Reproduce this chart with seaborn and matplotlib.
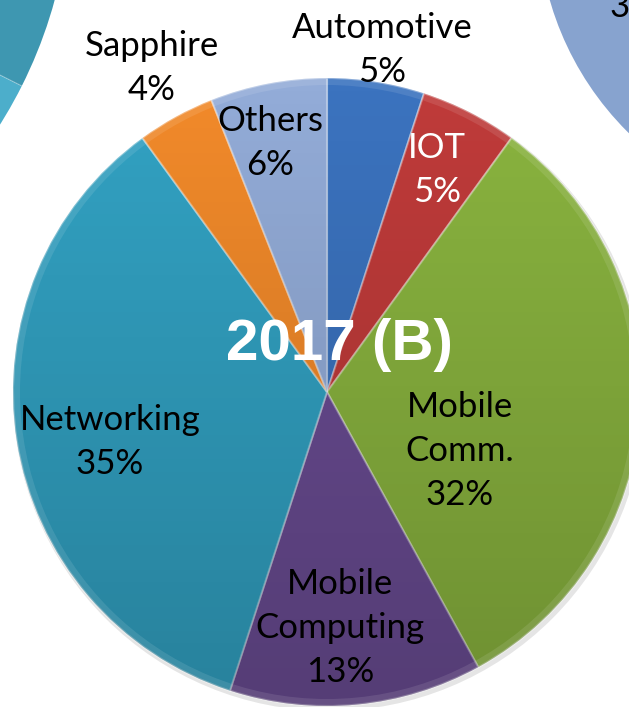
import numpy as np
import matplotlib
matplotlib.use("Agg")
import matplotlib.pyplot as plt
from matplotlib.patches import Circle, Wedge
import seaborn as sns

# ---- data ----
categories = ["Automotive", "IOT", "Mobile\nComm.", "Mobile\nComputing", "Networking", "Sapphire", "Others"]
shares = [5, 5, 32, 13, 35, 4, 6]
title = "2017 (B)"

# ---- style ----
slice_colors = ["#3b73bf", "#c03b3a", "#8ab43f", "#6a4c93", "#32a2c3", "#f28a2a", "#93acd8"]
label_colors = ["black", "white", "black", "black", "black", "black", "black"]
# label block centres in image pixel coords (x, y from top)
label_pos = [(382, 50), (437, 170), (460, 451), (340, 628), (110, 442), (152, 68), (270, 143)]

W, H = 629, 707
sns.set_theme(style="white")
plt.rcParams["font.family"] = ["Lato", "DejaVu Sans"]

fig = plt.figure(figsize=(W / 100, H / 100), dpi=100)
ax = fig.add_axes([0, 0, 1, 1])
palette = sns.color_palette(slice_colors)

def Y(y):
    return H - y

# neighbouring pies (partially visible)
ax.add_patch(Wedge((-391, Y(-121.5)), 462, -60, -26.7, facecolor="#4caecb", edgecolor="none"))
ax.add_patch(Wedge((-391, Y(-121.5)), 462, -26.7, 10, facecolor="#3e97b1", edgecolor="none"))
ax.plot([0, 30], [Y(75), Y(90)], color="white", alpha=0.3, lw=0.8)
ax.add_patch(Circle((842, Y(-83.6)), 304, facecolor="#87a3cf", edgecolor="none"))
ax.text(620, Y(17), "3", fontsize=25, ha="center", va="baseline", color="black")

# main pie
cx, cy, R = 327, Y(392), 314
ax.add_patch(Circle((cx + 2, cy - 3), R + 2, facecolor="#000000", alpha=0.10, edgecolor="none"))
wedges, _ = ax.pie(shares, colors=palette, startangle=90, counterclock=False,
                   center=(cx, cy), radius=R, frame=True,
                   wedgeprops=dict(edgecolor=(1, 1, 1, 0.35), linewidth=1.5))

# vertical shading gradient clipped to pie
grad = np.linspace(0, 1, 256).reshape(-1, 1)
rgba = np.zeros((256, 1, 4))
rgba[..., 3] = 0.20 * grad
im = ax.imshow(rgba, extent=(cx - R, cx + R, cy - R, cy + R), origin="upper",
               aspect="auto", zorder=3, interpolation="bilinear")
clip = Circle((cx, cy), R, transform=ax.transData)
im.set_clip_path(clip)
# rim highlight
ax.add_patch(Wedge((cx, cy), R, 0, 360, width=7, facecolor="white", alpha=0.10,
                   edgecolor="none", zorder=4))

for cat, v, (lx, ly), col in zip(categories, shares, label_pos, label_colors):
    ax.text(lx, Y(ly), f"{cat}\n{v}%", ha="center", va="center", fontsize=25,
            color=col, linespacing=1.45, zorder=6)

ax.text(339, Y(345), title, ha="center", va="center", fontsize=42, fontweight="bold",
        color="white", family=["Liberation Sans", "DejaVu Sans"], zorder=7)

ax.set_xlim(0, W)
ax.set_ylim(0, H)
ax.set_aspect("equal")
ax.axis("off")
fig.savefig("out.png", dpi=100)
